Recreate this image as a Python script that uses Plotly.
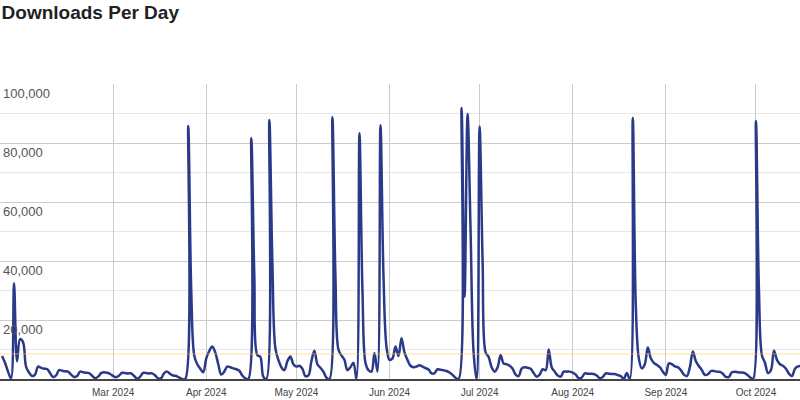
import pandas as pd
import plotly.graph_objects as go

# daily downloads (Jan 24 .. Oct 16, 2024)
jan = [7800, 5500, 2500, 200, 32500, 6000, 13500, 12500]
feb = [4200, 2200, 1000, 1500, 4200, 3800, 3500, 3400, 2000, 700,
       1200, 3000, 2800, 2600, 2500, 1500, 700, 1000, 2500, 2300,
       2100, 2000, 1100, 300, 800, 2000, 2300, 2100, 1700]
mar = [1000, 600, 1200, 2100, 2000, 1900, 1900, 1000, 100, 800,
       2100, 2000, 1900, 1900, 1200, 200, 300, 2000, 2500, 1700,
       1200, 1000, 500, 0, 0, 85800, 30000, 8000, 5000, 3500, 2300]
apr = [7000, 9500, 11000, 9000, 5000, 1500, 2500, 4200, 4000, 3600,
       3300, 2800, 1200, 200, 0, 81600, 35000, 8100, 7500, 800,
       0, 87800, 40000, 10500, 6500, 4000, 3000, 6000, 7600, 5000]
may = [4200, 4500, 3500, 1000, 1200, 6000, 9600, 5000, 3800, 2500,
       500, 0, 88700, 35000, 10000, 8000, 6500, 3000, 4000, 5500,
       0, 83300, 30000, 5500, 3000, 2500, 8800, 2500, 86000, 35000, 11000]
jun = [6500, 7000, 11000, 7800, 13800, 9000, 6400, 4500, 4000, 4200,
       4700, 4200, 3700, 3200, 1900, 2000, 3300, 3100, 3000, 2700,
       2200, 1400, 400, 0, 91900, 27900, 89800, 50000, 9000, 0]
jul = [85600, 40000, 9000, 7500, 4000, 2500, 4000, 8100, 5200, 5000,
       4500, 3500, 1500, 1000, 3500, 4000, 3800, 3500, 2000, 800,
       1500, 3300, 3000, 10000, 4000, 2500, 1200, 800, 2500, 2500, 2500]
aug = [2200, 1500, 300, 500, 1900, 1800, 1800, 1700, 1200, 300,
       700, 1900, 1800, 1700, 1700, 1300, 1000, 0, 2000, 0,
       88500, 25000, 7000, 3600, 5000, 10700, 7000, 5500, 4800, 4000, 2500]
sep = [1400, 5300, 5000, 4300, 4000, 3000, 1500, 1000, 4000, 9300,
       6000, 4400, 3000, 1400, 1600, 2700, 2700, 2500, 2400, 1800,
       700, 700, 2300, 2500, 2300, 2200, 2100, 1500, 600, 0]
oct_ = [87500, 30000, 8000, 5500, 2000, 3000, 9600, 6500, 5000, 4500,
        3500, 1800, 1000, 3500, 4300, 4400]

downloads = jan + feb + mar + apr + may + jun + jul + aug + sep + oct_
days = pd.date_range("2024-01-24", periods=len(downloads), freq="D")

average = 8500  # the thin yellow reference line

month_ticks = pd.date_range("2024-02-01", "2024-10-01", freq="MS")
month_labels = ["" if m.month == 2 else m.strftime("%b %Y") for m in month_ticks]

y_ticks = [0, 20000, 40000, 60000, 80000, 100000]
y_labels = ["" if v == 0 else f"{v:,}" for v in y_ticks]

font = "Liberation Sans, Arial, sans-serif"

fig = go.Figure()

fig.add_trace(go.Scatter(
    x=days,
    y=downloads,
    mode="lines",
    line=dict(color="#2a3a88", width=2.5, shape="spline"),
    name="Downloads",
))

fig.add_hline(y=average, line=dict(color="rgba(255,205,90,0.6)", width=1))

fig.update_layout(
    width=800,
    height=400,
    margin=dict(l=0, r=0, t=84, b=21),
    paper_bgcolor="white",
    plot_bgcolor="white",
    showlegend=False,
    title=dict(
        text="<b>Downloads Per Day</b>",
        font=dict(family=font, size=19, color="#222"),
        x=0.002, xref="container", xanchor="left",
        y=0.97, yref="container", yanchor="middle",
    ),
    xaxis=dict(
        type="date",
        range=["2024-01-23 08:00", "2024-10-15 16:00"],
        tickvals=month_ticks,
        ticktext=month_labels,
        ticks="outside",
        ticklen=3,
        tickcolor="rgba(0,0,0,0)",
        showgrid=True,
        gridcolor="#cccccc",
        showline=True,
        linecolor="#444",
        linewidth=1.5,
        zeroline=False,
        tickfont=dict(family=font, size=10, color="#444"),
    ),
    yaxis=dict(
        range=[0, 100000],
        tickvals=y_ticks,
        ticktext=y_labels,
        ticklabelposition="inside bottom",
        showgrid=True,
        gridcolor="#cccccc",
        zeroline=False,
        minor=dict(dtick=10000, showgrid=True, gridcolor="#e6e6e6"),
        tickfont=dict(family=font, size=13, color="#555"),
    ),
)

# page has no body margin in the reference
fig.write_html(
    "out.html",
    config={"displayModeBar": False},
    post_script="document.body.style.margin='0px';",
)
